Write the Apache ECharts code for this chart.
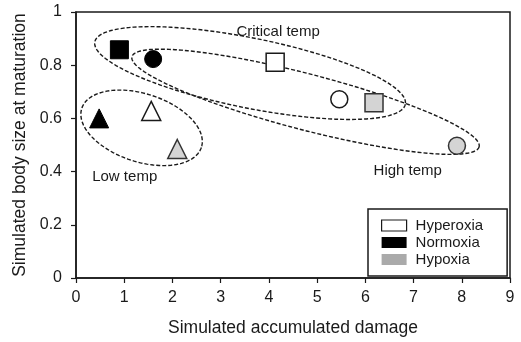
<!DOCTYPE html>
<html>
<head>
<meta charset="utf-8">
<script src="https://cdn.jsdelivr.net/npm/echarts@6/dist/echarts.min.js"></script>
<style>
  html, body { margin: 0; padding: 0; background: #fff; }
  #chart { width: 521px; height: 342px; }
</style>
</head>
<body>
<div id="chart"></div>
<script>
// temperature treatment -> marker shape
var temps = ['Low temp', 'Critical temp', 'High temp'];
var shapes = ['triangle', 'rect', 'circle'];

// [damage, body size] for Low / Critical / High temp
var hyperoxia = [[1.56, 0.628], [4.13, 0.811], [5.46, 0.672]];
var normoxia = [[0.48, 0.600], [0.90, 0.858], [1.60, 0.823]];
var hypoxia = [[2.10, 0.485], [6.18, 0.659], [7.90, 0.497]];

// grouping ellipses: major axis ends in data units [x1, y1, x2, y2]
var ellipses = [
  [0.12, 0.638, 2.60, 0.491],
  [0.39, 0.888, 6.83, 0.653],
  [1.16, 0.832, 8.36, 0.493]
];
var ellipseHalfWidth = [34, 35, 28];

// group labels [x, y]
var groupLabels = [
  ['Low temp', 1.01, 0.38],
  ['Critical temp', 4.19, 0.925],
  ['High temp', 6.88, 0.403]
];

var xTicks = [0, 1, 2, 3, 4, 5, 6, 7, 8, 9];
var yTicks = [0, 0.2, 0.4, 0.6, 0.8, 1];

var font = 'Liberation Sans, Arial, sans-serif';
var ink = '#1a1a1a';

function points(arr) {
  return arr.map(function (d, i) {
    return { value: d, symbol: shapes[i], symbolSize: shapes[i] === 'circle' ? 17 : (shapes[i] === 'rect' ? 18 : 19) };
  });
}

var myChart = echarts.init(document.getElementById('chart'));

var option = {
  animation: false,
  backgroundColor: '#fff',
  textStyle: { fontFamily: font },
  grid: {
    left: 76, right: 11, top: 12, bottom: 62,
    show: true, borderColor: ink, borderWidth: 1.5, backgroundColor: 'transparent'
  },
  xAxis: {
    type: 'value', min: 0, max: 9, interval: 1,
    name: 'Simulated accumulated damage',
    nameLocation: 'middle', nameGap: 41,
    nameTextStyle: { fontSize: 17.5, color: ink, fontFamily: font },
    axisLine: { lineStyle: { color: ink, width: 1.5 } },
    axisTick: { show: true, inside: false, length: 5, lineStyle: { color: ink, width: 1.2 } },
    axisLabel: { fontSize: 16, color: ink, margin: 12, fontFamily: font },
    splitLine: { show: false }
  },
  yAxis: {
    type: 'value', min: 0, max: 1, interval: 0.2,
    name: 'Simulated body size at maturation',
    nameLocation: 'middle', nameGap: 47,
    nameTextStyle: { fontSize: 17.5, color: ink, fontFamily: font },
    axisLine: { lineStyle: { color: ink, width: 1.5 } },
    axisTick: { show: true, inside: false, length: 5, lineStyle: { color: ink, width: 1.2 } },
    axisLabel: { fontSize: 16, color: ink, margin: 14, fontFamily: font },
    splitLine: { show: false }
  },
  legend: {
    data: [
      { name: 'Hyperoxia', itemStyle: { color: '#fff', borderColor: ink, borderWidth: 1.2 } },
      { name: 'Normoxia', itemStyle: { color: '#000', borderWidth: 0 } },
      { name: 'Hypoxia', itemStyle: { color: '#aaaaaa', borderWidth: 0 } }
    ],
    orient: 'vertical',
    left: 368, top: 209,
    icon: 'rect', itemWidth: 25, itemHeight: 11, itemGap: 0,
    padding: [8, 24, 8, 13],
    borderColor: ink, borderWidth: 1.5,
    textStyle: { fontSize: 15, color: ink, lineHeight: 17, fontFamily: font, padding: [0, 0, 0, 4] }
  },
  series: [
    {
      type: 'custom',
      silent: true,
      z: 1,
      data: ellipses,
      encode: { x: [0, 2], y: [1, 3] },
      renderItem: function (params, api) {
        var p1 = api.coord([api.value(0), api.value(1)]);
        var p2 = api.coord([api.value(2), api.value(3)]);
        var cx = (p1[0] + p2[0]) / 2, cy = (p1[1] + p2[1]) / 2;
        var a = Math.sqrt(Math.pow(p2[0] - p1[0], 2) + Math.pow(p2[1] - p1[1], 2)) / 2;
        var b = ellipseHalfWidth[params.dataIndex];
        var th = Math.atan2(p2[1] - p1[1], p2[0] - p1[0]);
        var pts = [];
        for (var k = 0; k < 120; k++) {
          var t = k / 120 * Math.PI * 2;
          var ex = a * Math.cos(t), ey = b * Math.sin(t);
          pts.push([cx + ex * Math.cos(th) - ey * Math.sin(th), cy + ex * Math.sin(th) + ey * Math.cos(th)]);
        }
        return {
          type: 'polygon',
          shape: { points: pts },
          style: { fill: 'none', stroke: ink, lineWidth: 1.4, lineDash: [4, 2] }
        };
      }
    },
    {
      name: 'Hyperoxia', type: 'scatter', z: 3,
      data: points(hyperoxia),
      itemStyle: { color: '#fff', borderColor: ink, borderWidth: 1.5, opacity: 1 }
    },
    {
      name: 'Normoxia', type: 'scatter', z: 3,
      data: points(normoxia),
      itemStyle: { color: '#000', borderColor: '#000', borderWidth: 1, opacity: 1 }
    },
    {
      name: 'Hypoxia', type: 'scatter', z: 3,
      data: points(hypoxia),
      itemStyle: { color: '#d4d4d4', borderColor: '#333', borderWidth: 1.5, opacity: 1 }
    },
    {
      type: 'custom', silent: true, z: 4,
      data: groupLabels.map(function (g) { return [g[1], g[2]]; }),
      renderItem: function (params, api) {
        var p = api.coord([api.value(0), api.value(1)]);
        return {
          type: 'text',
          x: p[0], y: p[1],
          style: {
            text: groupLabels[params.dataIndex][0],
            fill: ink, fontSize: 15, fontFamily: font,
            align: 'center', verticalAlign: 'middle'
          }
        };
      }
    }
  ]
};

myChart.setOption(option);
</script>
</body>
</html>
